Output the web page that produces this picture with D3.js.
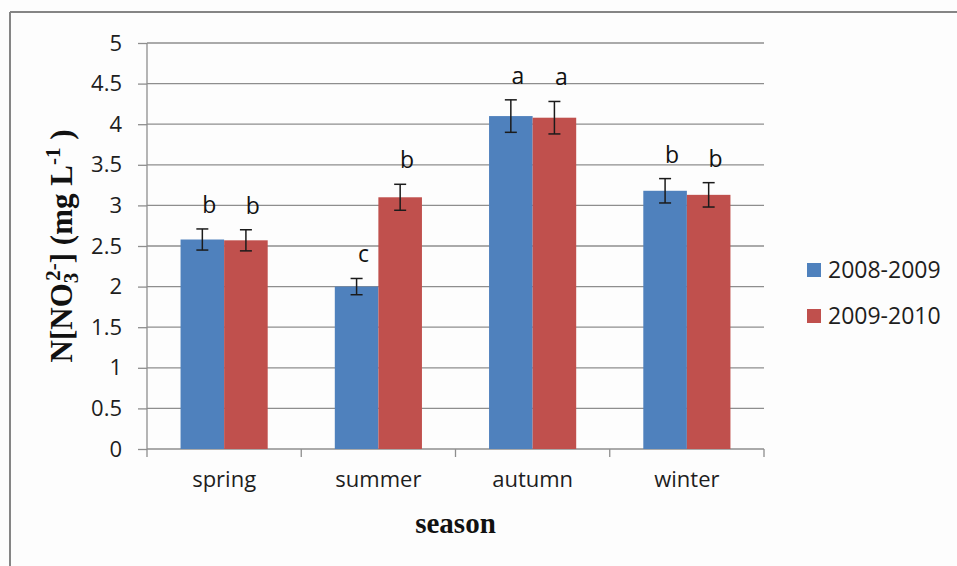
<!DOCTYPE html>
<html>
<head>
<meta charset="utf-8">
<script src="https://cdn.jsdelivr.net/npm/d3@7"></script>
<style>
  html, body { margin: 0; padding: 0; background: #fdfdfd; }
  svg { display: block; }
</style>
</head>
<body>
<svg id="chart" width="957" height="566"></svg>
<script>
// Seasonal nitrate concentration, two sampling years
const seasons = ["spring", "summer", "autumn", "winter"];
const seriesNames = ["2008-2009", "2009-2010"];
const values0809 = [2.58, 2.0, 4.1, 3.18];
const values0910 = [2.57, 3.1, 4.08, 3.13];
const errors0809 = [0.13, 0.1, 0.2, 0.15];
const errors0910 = [0.13, 0.16, 0.2, 0.15];
const letters0809 = ["b", "c", "a", "b"];
const letters0910 = ["b", "b", "a", "b"];
const yTicks = [0, 0.5, 1, 1.5, 2, 2.5, 3, 3.5, 4, 4.5, 5];
const yTickLabels = ["0", "0.5", "1", "1.5", "2", "2.5", "3", "3.5", "4", "4.5", "5"];
const seriesColors = ["#4F81BD", "#C0504D"];

const svg = d3.select("#chart");
const W = 957, H = 566;
const plot = { left: 147, right: 764, top: 43, bottom: 449 };
const gridColor = "#8e8e8e";
const sansFont = "'Open Sans', 'Noto Sans', sans-serif";
const serifFont = "'Liberation Serif', 'DejaVu Serif', serif";

// outer frame (top and left edges visible)
svg.append("rect").attr("width", W).attr("height", H).attr("fill", "#fdfdfd");
svg.append("line").attr("x1", 10).attr("x2", W).attr("y1", 12).attr("y2", 12)
  .attr("stroke", "#858585").attr("stroke-width", 2);
svg.append("line").attr("x1", 10).attr("x2", 10).attr("y1", 12).attr("y2", H)
  .attr("stroke", "#858585").attr("stroke-width", 2);

const x = d3.scaleBand().domain(seasons).range([plot.left, plot.right]).padding(0);
const groupFrac = 0.565;
const x1 = d3.scaleBand().domain(seriesNames)
  .range([x.bandwidth() * (1 - groupFrac) / 2, x.bandwidth() * (1 + groupFrac) / 2]);
const y = d3.scaleLinear().domain([0, 5]).range([plot.bottom, plot.top]);

// horizontal gridlines with left tick marks and labels
const yAxis = d3.axisLeft(y)
  .tickValues(yTicks)
  .tickFormat((d, i) => yTickLabels[i])
  .tickSize(9)
  .tickPadding(16);
const gy = svg.append("g").attr("transform", `translate(${plot.left},0)`).call(yAxis);
gy.select(".domain").remove();
gy.selectAll(".tick line").attr("stroke", gridColor).attr("stroke-width", 1.3);
gy.selectAll(".tick text")
  .attr("font-family", sansFont).attr("font-size", 22).attr("fill", "#1e1e1e");

svg.append("g").selectAll("line").data(yTicks).join("line")
  .attr("x1", plot.left).attr("x2", plot.right)
  .attr("y1", d => y(d)).attr("y2", d => y(d))
  .attr("stroke", gridColor).attr("stroke-width", 1.3);

// vertical axis line
svg.append("line")
  .attr("x1", plot.left).attr("x2", plot.left)
  .attr("y1", y(5)).attr("y2", y(0))
  .attr("stroke", gridColor).attr("stroke-width", 1.3);

// category axis: labels under each band, ticks at band boundaries
const xAxis = d3.axisBottom(x).tickSize(0).tickPadding(22);
const gx = svg.append("g").attr("transform", `translate(0,${plot.bottom})`).call(xAxis);
gx.select(".domain").remove();
gx.selectAll(".tick text")
  .attr("font-family", sansFont).attr("font-size", 22).attr("fill", "#1e1e1e");

const boundaries = seasons.map(s => x(s)).concat([x(seasons[seasons.length - 1]) + x.bandwidth()]);
svg.append("g").selectAll("line").data(boundaries).join("line")
  .attr("x1", d => d).attr("x2", d => d)
  .attr("y1", plot.bottom).attr("y2", plot.bottom + 8)
  .attr("stroke", gridColor).attr("stroke-width", 1.3);

// bars, error bars and significance letters
const seriesData = [
  { name: seriesNames[0], values: values0809, errors: errors0809, letters: letters0809 },
  { name: seriesNames[1], values: values0910, errors: errors0910, letters: letters0910 }
];

seriesData.forEach((s, si) => {
  const rows = seasons.map((season, i) => ({
    season, value: s.values[i], err: s.errors[i], letter: s.letters[i]
  }));
  const g = svg.append("g");
  const bx = d => x(d.season) + x1(s.name);
  const cx = d => bx(d) + x1.bandwidth() / 2;

  g.selectAll("rect").data(rows).join("rect")
    .attr("x", bx)
    .attr("y", d => y(d.value))
    .attr("width", x1.bandwidth())
    .attr("height", d => y(0) - y(d.value))
    .attr("fill", seriesColors[si]);

  const capHalf = 6;
  const eg = g.selectAll("g.err").data(rows).join("g").attr("class", "err")
    .attr("stroke", "#1b1b1b").attr("stroke-width", 1.5);
  eg.append("line")
    .attr("x1", cx).attr("x2", cx)
    .attr("y1", d => y(d.value + d.err)).attr("y2", d => y(d.value - d.err));
  eg.append("line")
    .attr("x1", d => cx(d) - capHalf).attr("x2", d => cx(d) + capHalf)
    .attr("y1", d => y(d.value + d.err)).attr("y2", d => y(d.value + d.err));
  eg.append("line")
    .attr("x1", d => cx(d) - capHalf).attr("x2", d => cx(d) + capHalf)
    .attr("y1", d => y(d.value - d.err)).attr("y2", d => y(d.value - d.err));

  g.selectAll("text").data(rows).join("text")
    .attr("x", d => cx(d) + 7)
    .attr("y", d => y(d.value + d.err) - 16)
    .attr("text-anchor", "middle")
    .attr("font-family", sansFont).attr("font-size", 23).attr("fill", "#111")
    .text(d => d.letter);
});

// legend
const legend = svg.append("g").attr("transform", "translate(807,270)");
seriesNames.forEach((name, i) => {
  const row = legend.append("g").attr("transform", `translate(0,${i * 46})`);
  row.append("rect").attr("x", 0).attr("y", -7).attr("width", 14).attr("height", 14)
    .attr("fill", seriesColors[i]);
  row.append("text").attr("x", 21).attr("y", 0).attr("dy", "0.35em")
    .attr("font-family", sansFont).attr("font-size", 23).attr("fill", "#1e1e1e")
    .text(name);
});

// axis titles
svg.append("text")
  .attr("x", (plot.left + plot.right) / 2).attr("y", 533)
  .attr("text-anchor", "middle")
  .attr("font-family", serifFont).attr("font-size", 29).attr("font-weight", "bold")
  .attr("fill", "#111")
  .text("season");

const yTitle = svg.append("text")
  .attr("transform", `translate(72,${(plot.top + plot.bottom) / 2}) rotate(-90)`)
  .attr("text-anchor", "middle")
  .attr("font-family", serifFont).attr("font-size", 31).attr("font-weight", "bold")
  .attr("fill", "#111");
yTitle.append("tspan").text("N[NO");
yTitle.append("tspan").attr("font-size", 21).attr("dy", 6).text("3");
yTitle.append("tspan").attr("font-size", 21).attr("dx", -8).attr("dy", -18).text("2-");
yTitle.append("tspan").attr("dy", 12).text("] (mg L");
yTitle.append("tspan").attr("font-size", 21).attr("dy", -12).text("-1");
yTitle.append("tspan").attr("dy", 12).text(" )");
</script>
</body>
</html>
